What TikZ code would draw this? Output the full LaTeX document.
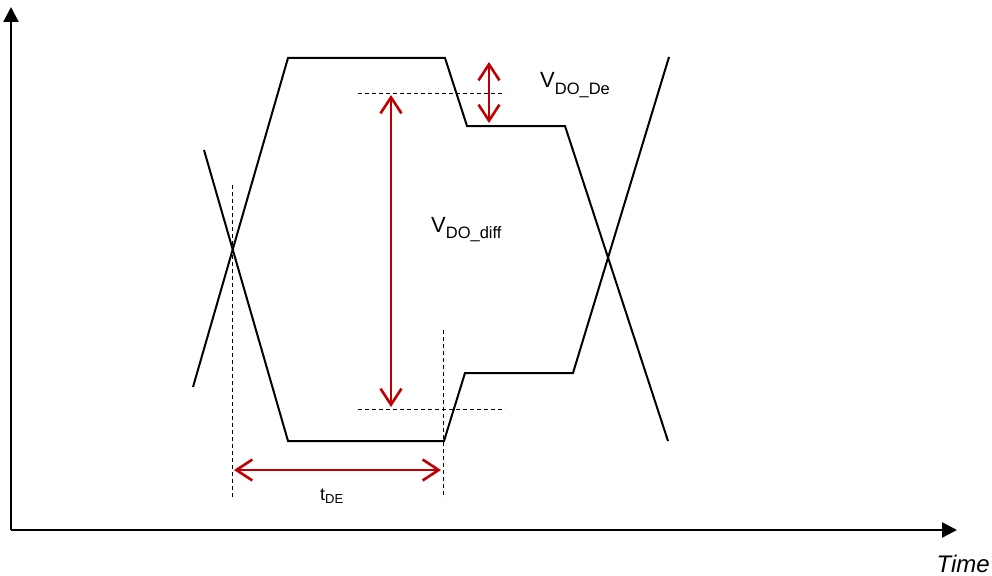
\documentclass[tikz,border=0pt]{standalone}
\usepackage{fontspec}
\setmainfont{Liberation Sans}
\usepackage{xcolor}
\usetikzlibrary{arrows.meta,positioning}
\definecolor{darkred}{RGB}{192,0,0}

\begin{document}
\begin{tikzpicture}[
    x=1pt, y=-1pt,
    axis/.style={line width=2.4pt, -{Triangle[length=15pt,width=15pt]}},
    wave/.style={line width=2pt, line join=miter},
    guide/.style={line width=0.9pt, dash pattern=on 4pt off 3pt},
    measure/.style={{Straight Barb[length=16pt,width=21pt,line width=2.6pt]}-{Straight Barb[length=16pt,width=21pt,line width=2.6pt]}, line width=2.6pt, darkred},
    lbl/.style={inner sep=0pt}
]
    \useasboundingbox (0,0) rectangle (992,575);

    % axes
    \coordinate (origin) at (11,530);
    \coordinate (ytop) at (11,7);
    \coordinate (xend) at (957,530);
    \draw[axis] (origin) -- (ytop);
    \draw[axis] (origin) -- (xend);
    \node[lbl, anchor=base east, font=\fontsize{24}{24}\selectfont\itshape] (time) at (990,572) {Time};

    % eye: the two levels of each transition
    \draw[wave] (193,387) -- (288,58) -- (445,58) -- (467,126) -- (565,126) -- (668,441);
    \draw[wave] (204,150) -- (288,441) -- (444,441) -- (465,373) -- (573,373) -- (669,57);

    % guides
    \draw[guide] (232,185) -- (232,498);
    \draw[guide] (443,330) -- (443,498);
    \draw[guide] (358,93) -- (505,93);
    \draw[guide] (358,409) -- (505,409);

    % measurements
    \coordinate (de top) at (489,62);
    \coordinate (de bot) at (489,123);
    \coordinate (diff top) at (391,95);
    \coordinate (diff bot) at (391,407);
    \coordinate (t left) at (234,470);
    \coordinate (t right) at (441,470);
    \draw[measure] (de top) -- (de bot);
    \draw[measure] (diff top) -- (diff bot);
    \draw[measure] (t left) -- (t right);

    \node[lbl, anchor=base west] (vde) at (540,88)
        {{\fontsize{22}{22}\selectfont V}\raisebox{-7pt}{\fontsize{16.5}{16.5}\selectfont DO\_De}};
    \node[lbl, anchor=base west] (vdiff) at (431,232)
        {{\fontsize{22}{22}\selectfont V}\raisebox{-6pt}{\fontsize{16.5}{16.5}\selectfont DO\_diff}};
    \node[lbl, anchor=base west] (tde) at (320,500)
        {{\fontsize{18}{18}\selectfont t}\raisebox{-3pt}{\fontsize{13}{13}\selectfont DE}};
\end{tikzpicture}
\end{document}
